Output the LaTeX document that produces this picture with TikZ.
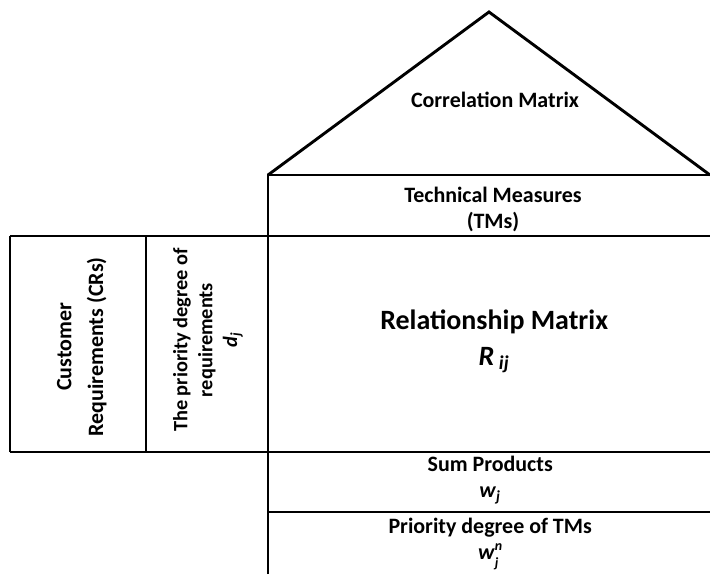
\documentclass[tikz,border=0pt]{standalone}
\usepackage{fontspec}
\setmainfont{Carlito}
\usepackage{tikz}
\usetikzlibrary{positioning}

\newcommand{\sub}[2]{\textit{#1}\textsubscript{\textit{#2}}}
% letter with stacked sub- and superscript
\newcommand{\subsup}[3]{\textit{#1}\rlap{\raisebox{-0.75ex}{\scriptsize\textit{#2}}}\raisebox{0.85ex}{\scriptsize\textit{#3}}}

\begin{document}
\begin{tikzpicture}[line width=1.45pt,
    every node/.style={font=\fontsize{11}{13}\selectfont\bfseries, align=center}]
    \useasboundingbox (0, 0) rectangle (12.5, 10.106);

    % Roof
    \draw (4.718, 7.025) -- (8.609, 9.895) -- (12.5, 7.025);
    \node (corr) at (8.715, 8.345) {Correlation Matrix};

    % Main column and row lines
    \draw (4.718, 0) -- (4.718, 7.025) -- (12.5, 7.025);
    \draw (0.176, 5.951) -- (12.5, 5.951);
    \draw (0.176, 2.148) -- (12.5, 2.148);
    \draw (4.718, 1.092) -- (12.5, 1.092);
    \draw (0.176, 2.148) -- (0.176, 5.951);
    \draw (2.570, 2.148) -- (2.570, 5.951);

    % Ceiling
    \node (tms) at (8.68, 6.42) {Technical Measures\\(TMs)};

    % Left wall
    \node[rotate=90, font=\fontsize{11}{16}\selectfont\bfseries] (crs) at (1.44, 4.0)
        {Customer\\Requirements (CRs)};
    \node[rotate=90, font=\fontsize{10.2}{12.5}\selectfont\bfseries] (prio) at (3.66, 4.12)
        {The priority degree of\\requirements\\\sub{d}{j}};

    % Room
    \node[font=\fontsize{14}{17}\selectfont\bfseries] (rel) at (8.70, 4.10)
        {Relationship Matrix\\[1pt]\textit{R}\,\textsubscript{\textit{ij}}};

    % Basement
    \node (sum) at (8.63, 1.655) {Sum Products\\\sub{w}{j}};
    \node (tmw) at (8.63, 0.53) {Priority degree of TMs\\\subsup{w}{j}{n}};
\end{tikzpicture}
\end{document}
